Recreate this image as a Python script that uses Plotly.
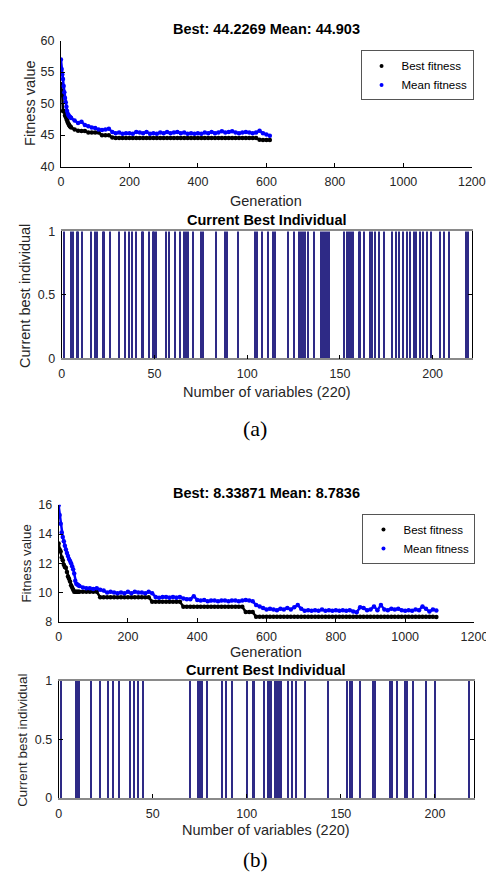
import plotly.graph_objects as go

# ---------------- data ----------------
gens_a = list(range(0, 30, 2)) + list(range(30, 611, 10))
best_a = [53.1, 52.0, 51.3, 48.8, 48.8, 48.7, 48.1, 47.9, 47.6, 47.3, 47.0, 46.8, 46.6, 46.4, 46.3,
          46.2, 45.9, 45.7, 45.65, 45.65, 45.4, 45.4, 45.4, 45.4, 44.95, 44.95, 44.95, 44.6,
          44.55, 44.55, 44.55, 44.55, 44.55, 44.55, 44.55, 44.55, 44.55, 44.55,
          44.55, 44.55, 44.55, 44.55, 44.55, 44.55, 44.55, 44.55, 44.55, 44.55,
          44.55, 44.55, 44.55, 44.55, 44.55, 44.55, 44.55, 44.55, 44.55, 44.55,
          44.55, 44.55, 44.55, 44.55, 44.55, 44.55, 44.55, 44.55, 44.55, 44.55,
          44.55, 44.55,
          44.25, 44.23, 44.23, 44.2269]
mean_a = [57.0, 55.5, 54.6, 53.9, 52.8, 51.8, 50.9, 50.2, 49.5, 48.8, 48.4, 48.2, 48.0, 47.9, 47.8,
          47.7, 47.3, 46.9, 47.1, 46.6, 46.4, 46.2, 46.1, 45.9, 45.8,
          45.9, 46.0, 45.5, 45.3, 45.4, 45.2, 45.3, 45.3, 45.2, 45.5,
          45.4, 45.3, 45.5, 45.2, 45.3, 45.2, 45.4, 45.3, 45.5, 45.3,
          45.4, 45.5, 45.3, 45.4, 45.2, 45.3, 45.2, 45.3, 45.2, 45.4,
          45.3, 45.5, 45.3, 45.4, 45.6, 45.4, 45.5, 45.6, 45.4, 45.3,
          45.4, 45.5, 45.4, 45.3, 45.4, 45.7, 45.3, 45.1, 44.9]

gens_b = list(range(0, 60, 3)) + list(range(60, 1091, 10))
best_b = [13.35, 12.95, 12.8, 12.4, 12.2, 11.9, 11.75, 11.7, 11.4, 11.1,
          10.95, 10.75, 10.5, 10.35, 10.2, 10.05, 10.05, 10.05, 10.05, 10.05,
          10.05, 10.05, 10.05, 10.05, 10.05, 10.05,
          9.68, 9.68, 9.68, 9.68, 9.68, 9.68, 9.68, 9.68, 9.68, 9.68, 9.68, 9.68, 9.68, 9.68, 9.68,
          9.38, 9.38, 9.38, 9.38, 9.38, 9.38, 9.38, 9.38, 9.38,
          9.03, 9.03, 9.03, 9.03, 9.03, 9.03, 9.03, 9.03, 9.03,
          9.03, 9.03, 9.03, 9.03, 9.03, 9.03, 9.03, 9.03, 9.03,
          8.67, 8.67, 8.67,
          8.34, 8.34, 8.34, 8.34, 8.34, 8.34, 8.34, 8.34, 8.34, 8.34,
          8.34, 8.34, 8.34, 8.34, 8.34, 8.34, 8.34, 8.34, 8.34, 8.34,
          8.34, 8.34, 8.34, 8.34, 8.34, 8.34, 8.34, 8.34, 8.34, 8.34,
          8.34, 8.34, 8.34, 8.34, 8.34, 8.34, 8.34, 8.34, 8.34, 8.34,
          8.34, 8.34, 8.34, 8.34, 8.34, 8.34, 8.34, 8.34, 8.34, 8.34,
          8.34, 8.34, 8.33871]
mean_b = [15.95, 15.3, 14.7, 14.1, 13.8, 13.5, 13.2, 12.95, 12.7, 12.5,
          12.3, 12.15, 12.0, 11.8, 11.6, 11.3, 10.8, 10.6, 10.55, 10.5,
          10.45, 10.35, 10.3, 10.3, 10.25, 10.3, 10.2, 10.15, 10.0, 10.05,
          10.0, 9.95, 10.0, 9.95, 10.05, 9.95, 10.05, 10.0, 10.0, 9.95,
          10.05, 9.95, 9.7, 9.65, 9.7, 9.7, 9.65, 9.7, 9.65, 9.7,
          9.6, 9.55, 9.55, 9.75, 9.5, 9.45, 9.5, 9.4, 9.45, 9.45,
          9.4, 9.45, 9.45, 9.4, 9.45, 9.45, 9.4, 9.45, 9.5, 9.45,
          9.4, 9.15, 9.05, 8.95, 8.85, 8.9, 8.85, 8.8, 8.9, 8.85,
          8.95, 8.85, 9.0, 9.15, 8.9, 8.75, 8.8, 8.75, 8.8, 8.75,
          8.85, 8.75, 8.8, 8.75, 8.8, 8.75, 8.8, 8.75, 8.8, 8.7,
          8.65, 9.0, 8.95, 8.8, 8.85, 9.05, 8.8, 9.15, 8.85, 8.8,
          8.9, 8.85, 8.9, 8.8, 8.75, 8.8, 8.75, 8.85, 8.8, 9.05,
          8.9, 8.7, 8.85, 8.7836]

n_vars = 220
variables = list(range(1, n_vars + 1))
selected_a = [1, 5, 6, 8, 9, 11, 16, 18, 19, 22, 23, 26, 31, 34, 36, 38, 40, 43, 44, 47, 49, 50, 51,
              56, 58, 61, 64, 66, 67, 68, 71, 75, 76, 83, 88, 89, 95, 104, 105, 108, 111, 114, 115,
              122, 125, 128, 129, 130, 131, 133, 136, 140, 141, 142, 143, 144, 152, 154, 155, 156,
              157, 160, 161, 163, 166, 167, 169, 171, 174, 178, 180, 182, 184, 186, 188, 190, 191,
              193, 195, 197, 199, 204, 206, 209, 218, 219]
selected_b = [1, 9, 10, 11, 17, 22, 26, 29, 32, 38, 40, 42, 45, 70, 74, 75, 76, 79, 87, 89, 92, 100,
              103, 104, 109, 111, 112, 113, 115, 116, 117, 118, 122, 124, 126, 131, 143, 153, 155,
              156, 160, 167, 168, 176, 177, 180, 184, 185, 188, 195, 200, 218]
indiv_a = [1 if v in selected_a else 0 for v in variables]
indiv_b = [1 if v in selected_b else 0 for v in variables]

title_a = "Best: 44.2269 Mean: 44.903"
title_b = "Best: 8.33871 Mean: 8.7836"
gen_ticks = [0, 200, 400, 600, 800, 1000, 1200]
var_ticks = [0, 50, 100, 150, 200]

# ---------------- layout helpers ----------------
W, H = 494, 876
def fx(p): return p / W
def fy(p): return 1 - p / H

FONT = "Liberation Sans, Arial, sans-serif"
TXT = "#262626"
BAR = "#2e2a86"

fig = go.Figure()

def series(x, y, color, xa, ya):
    return go.Scatter(x=x, y=y, mode="lines+markers", showlegend=False,
                      line=dict(color=color, width=2.5), marker=dict(color=color, size=4.5),
                      xaxis=xa, yaxis=ya)

def legend_item(name, color, xa, ya, lg):
    return go.Scatter(x=[None], y=[None], mode="markers", name=name,
                      marker=dict(color=color, size=4), xaxis=xa, yaxis=ya, legend=lg)

# fitness (a)
fig.add_trace(series(gens_a, best_a, "black", "x", "y"))
fig.add_trace(series(gens_a, mean_a, "#0000ff", "x", "y"))
fig.add_trace(legend_item("Best fitness", "black", "x", "y", "legend"))
fig.add_trace(legend_item("Mean fitness", "#0000ff", "x", "y", "legend"))
# bars (a)
fig.add_trace(go.Bar(x=variables, y=indiv_a, width=0.8, marker=dict(color=BAR, line=dict(width=0)),
                     showlegend=False, xaxis="x2", yaxis="y2"))
# fitness (b)
fig.add_trace(series(gens_b, best_b, "black", "x3", "y3"))
fig.add_trace(series(gens_b, mean_b, "#0000ff", "x3", "y3"))
fig.add_trace(legend_item("Best fitness", "black", "x3", "y3", "legend2"))
fig.add_trace(legend_item("Mean fitness", "#0000ff", "x3", "y3", "legend2"))
# bars (b)
fig.add_trace(go.Bar(x=variables, y=indiv_b, width=0.8, marker=dict(color=BAR, line=dict(width=0)),
                     showlegend=False, xaxis="x4", yaxis="y4"))

tickfont = dict(family=FONT, size=12.5, color=TXT)

def fit_x(dom, anchor):
    return dict(domain=dom, anchor=anchor, range=[0, 1200], tickvals=gen_ticks,
                ticktext=[str(t) for t in gen_ticks], showline=True, linecolor="black",
                linewidth=1, ticks="inside", ticklen=4, tickcolor="black", showgrid=False,
                zeroline=False, tickfont=tickfont, ticklabelstandoff=3)

def fit_y(dom, anchor, rng, tv):
    return dict(domain=dom, anchor=anchor, range=rng, tickvals=tv, ticktext=[str(t) for t in tv],
                showline=True, linecolor="black", linewidth=1, ticks="inside", ticklen=4,
                tickcolor="black", showgrid=False, zeroline=False, tickfont=tickfont,
                ticklabelstandoff=3)

def bar_x(dom, anchor):
    return dict(domain=dom, anchor=anchor, range=[0, 221], tickvals=var_ticks,
                ticktext=[str(t) for t in var_ticks], showline=True, linecolor="#8a8a8a",
                linewidth=1.5, mirror=True, ticks="inside", ticklen=4, tickcolor="black",
                showgrid=False, zeroline=False, tickfont=tickfont, ticklabelstandoff=3)

def bar_y(dom, anchor):
    return dict(domain=dom, anchor=anchor, range=[0, 1], tickvals=[0, 0.5, 1],
                ticktext=["0", "0.5", "1"], showline=True, linecolor="black", linewidth=1,
                mirror="ticks", ticks="inside", ticklen=4, tickcolor="black", showgrid=False,
                zeroline=False, tickfont=tickfont, ticklabelstandoff=3)

legend_style = dict(xanchor="left", yanchor="top", bgcolor="white",
                    bordercolor="#555555", borderwidth=1,
                    font=dict(family=FONT, size=11.5, color="black"),
                    itemwidth=30, tracegroupgap=0)

fig.update_layout(
    width=W, height=H, margin=dict(l=0, r=0, t=0, b=0),
    paper_bgcolor="white", plot_bgcolor="white",
    font=dict(family=FONT, color=TXT),
    bargap=0,
    xaxis=fit_x([fx(51.7), fx(477.3)], "y"),
    yaxis=fit_y([fy(154), fy(26)], "x", [40, 60], [40, 45, 50, 55, 60]),
    xaxis2=bar_x([fx(52.5), fx(477)], "y2"),
    yaxis2=bar_y([fy(349), fy(220)], "x2"),
    xaxis3=fit_x([fx(49.3), fx(480)], "y3"),
    yaxis3=fit_y([fy(616.7), fy(497.7)], "x3", [8, 16], [8, 10, 12, 14, 16]),
    xaxis4=bar_x([fx(49.3), fx(480)], "y4"),
    yaxis4=bar_y([fy(795.7), fy(676.7)], "x4"),
    legend=dict(x=fx(362), y=fy(36), **legend_style),
    legend2=dict(x=fx(364), y=fy(507), **legend_style),
)

def ann(text, x, y, size, bold=False, angle=0, family=FONT, color=TXT):
    fig.add_annotation(text=("<b>%s</b>" % text) if bold else text, x=fx(x), y=fy(y),
                       xref="paper", yref="paper", showarrow=False, textangle=angle,
                       xanchor="center", yanchor="middle",
                       font=dict(family=family, size=size, color=color))

SERIF = "Liberation Serif, Times New Roman, serif"
# panel (a)
ann(title_a, 264.5, 14, 14.5, bold=True, color="black")
ann("Fitness value", 19, 90, 14.5, angle=-90)
ann("Generation", 264.5, 189, 14.5)
ann("Current Best Individual", 264.7, 208, 14.5, bold=True, color="black")
ann("Current best individual", 15, 285, 14.5, angle=-90)
ann("Number of variables (220)", 264.7, 383, 14.5)
ann("(a)", 253, 420, 22, family=SERIF, color="black")
# panel (b)
ann(title_b, 264.6, 486, 14.5, bold=True, color="black")
ann("Fitness value", 16, 557, 13.3, angle=-90)
ann("Generation", 264.6, 647, 14.5)
ann("Current Best Individual", 264.6, 666, 14.5, bold=True, color="black")
ann("Current best individual", 12, 737, 13.4, angle=-90)
ann("Number of variables (220)", 264.6, 828, 14.5)
ann("(b)", 253, 859, 21, family=SERIF, color="black")

fig.write_html("out.html")
